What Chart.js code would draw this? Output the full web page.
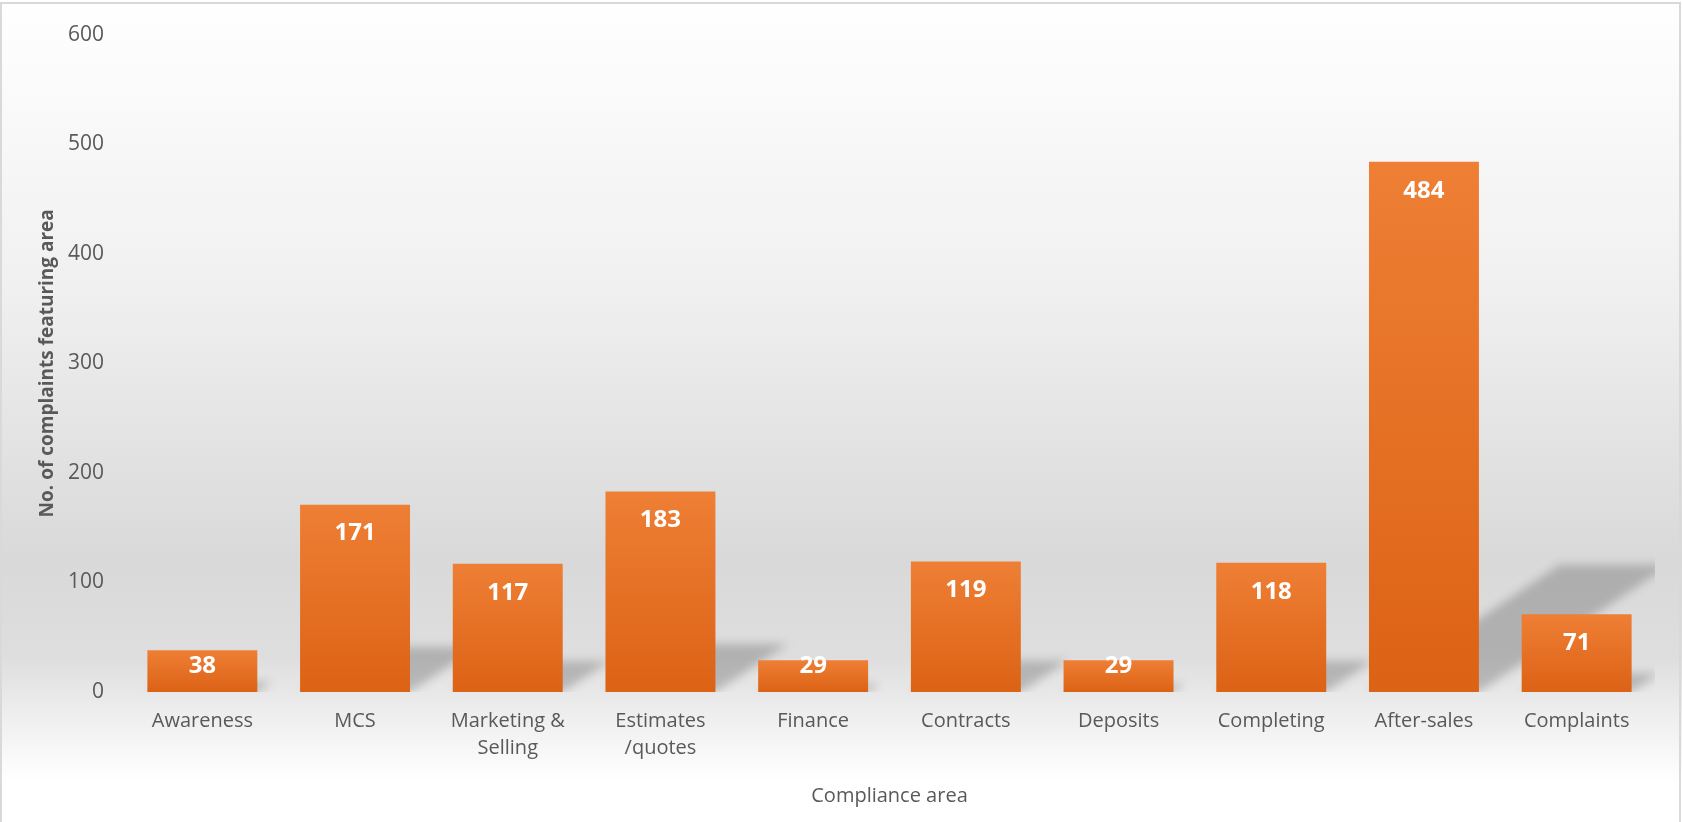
<!DOCTYPE html>
<html>
<head>
<meta charset="utf-8">
<script src="https://cdn.jsdelivr.net/npm/chart.js@4.4.1/dist/chart.umd.min.js"></script>
<style>
  html, body { margin: 0; padding: 0; overflow: hidden; background: #fff; }
  canvas { display: block; }
</style>
</head>
<body>
<canvas id="c" width="1682" height="822"></canvas>
<script>
const categories = ['Awareness', 'MCS', ['Marketing &', 'Selling'], ['Estimates', '/quotes'], 'Finance', 'Contracts', 'Deposits', 'Completing', 'After-sales', 'Complaints'];
const complaintCounts = [38, 171, 117, 183, 29, 119, 29, 118, 484, 71];
const yTickValues = [0, 100, 200, 300, 400, 500, 600];
const yAxisTitle = 'No. of complaints featuring area';
const xAxisTitle = 'Compliance area';

const FONT = '"Open Sans", "DejaVu Sans", sans-serif';
const TEXT = '#595959';

const bgPlugin = {
  id: 'bg',
  beforeDraw(chart) {
    const { ctx, width, height } = chart;
    ctx.save();
    const g = ctx.createLinearGradient(0, 0, 0, height);
    g.addColorStop(0, '#ffffff');
    g.addColorStop(0.35, '#f0f0f0');
    g.addColorStop(0.68, '#d9d9d9');
    g.addColorStop(0.80, '#dedede');
    g.addColorStop(0.86, '#ececec');
    g.addColorStop(0.95, '#ffffff');
    g.addColorStop(1, '#ffffff');
    ctx.fillStyle = g;
    ctx.fillRect(0, 0, width, height);
    ctx.strokeStyle = '#d9d9d9';
    ctx.lineWidth = 2;
    ctx.strokeRect(1, 3, width - 3, height + 20);
    ctx.restore();
  }
};

const shadowPlugin = {
  id: 'shadows',
  beforeDatasetsDraw(chart) {
    const { ctx, chartArea } = chart;
    const meta = chart.getDatasetMeta(0);
    ctx.save();
    ctx.beginPath();
    ctx.rect(chartArea.left, chartArea.top, chartArea.right - chartArea.left + 2, chartArea.bottom - chartArea.top);
    ctx.clip();
    ctx.filter = 'blur(5px)';
    ctx.fillStyle = 'rgba(0,0,0,0.2)';
    meta.data.forEach(el => {
      const h = el.base - el.y;
      const half = el.width / 2;
      const dy = 0.24 * h, dx = 0.36 * h;
      const xl = el.x - half, xr = el.x + half;
      ctx.beginPath();
      ctx.moveTo(xl, el.base);
      ctx.lineTo(xr, el.base);
      ctx.lineTo(xr + dx, el.base - dy);
      ctx.lineTo(xl + dx, el.base - dy);
      ctx.closePath();
      ctx.fill();
    });
    ctx.restore();
  }
};

const labelPlugin = {
  id: 'valueLabels',
  afterDatasetsDraw(chart) {
    const { ctx } = chart;
    const meta = chart.getDatasetMeta(0);
    const data = chart.data.datasets[0].data;
    ctx.save();
    ctx.font = 'bold 24px ' + FONT;
    ctx.fillStyle = '#ffffff';
    ctx.textAlign = 'center';
    ctx.textBaseline = 'middle';
    meta.data.forEach((el, i) => {
      const cy = Math.min(el.y + 29, el.base - 26);
      ctx.fillText(String(data[i]), el.x, cy);
    });
    ctx.restore();
  }
};

new Chart(document.getElementById('c'), {
  type: 'bar',
  data: {
    labels: categories,
    datasets: [{
      data: complaintCounts,
      backgroundColor: (c) => {
        const chart = c.chart;
        if (!chart.chartArea || c.raw === undefined) return '#e5712a';
        const ys = chart.scales.y;
        const top = ys.getPixelForValue(c.raw);
        const bottom = ys.getPixelForValue(0);
        const g = chart.ctx.createLinearGradient(0, top, 0, bottom);
        g.addColorStop(0, '#ee7f35');
        g.addColorStop(1, '#dc6215');
        return g;
      },
      borderWidth: 0,
      barPercentage: 0.72,
      categoryPercentage: 1.0
    }]
  },
  options: {
    responsive: false,
    animation: false,
    layout: { padding: { left: 36, right: 29, top: 32, bottom: 0 } },
    plugins: {
      legend: { display: false },
      tooltip: { enabled: false }
    },
    scales: {
      x: {
        grid: { display: false, drawTicks: false },
        border: { display: false },
        ticks: {
          color: TEXT,
          font: { family: FONT, size: 20, lineHeight: 1.35 },
          padding: 16,
          maxRotation: 0,
          autoSkip: false
        },
        title: {
          display: true,
          text: xAxisTitle,
          color: TEXT,
          font: { family: FONT, size: 20, lineHeight: 1.2 },
          padding: { top: 14, bottom: 14 }
        },
        afterFit(scale) { scale.height = 130; }
      },
      y: {
        min: 0,
        max: 600,
        afterBuildTicks(scale) { scale.ticks = yTickValues.map(v => ({ value: v })); },
        grid: { display: false, drawTicks: false },
        border: { display: false },
        ticks: {
          color: TEXT,
          font: { family: FONT, size: 21 },
          padding: 22
        },
        title: {
          display: true,
          text: yAxisTitle,
          color: TEXT,
          font: { family: FONT, size: 19, weight: 'bold', lineHeight: 1.2 },
          padding: { top: 0, bottom: 0 }
        },
        afterFit(scale) { scale.width = 90; }
      }
    }
  },
  plugins: [bgPlugin, shadowPlugin, labelPlugin]
});
</script>
</body>
</html>
